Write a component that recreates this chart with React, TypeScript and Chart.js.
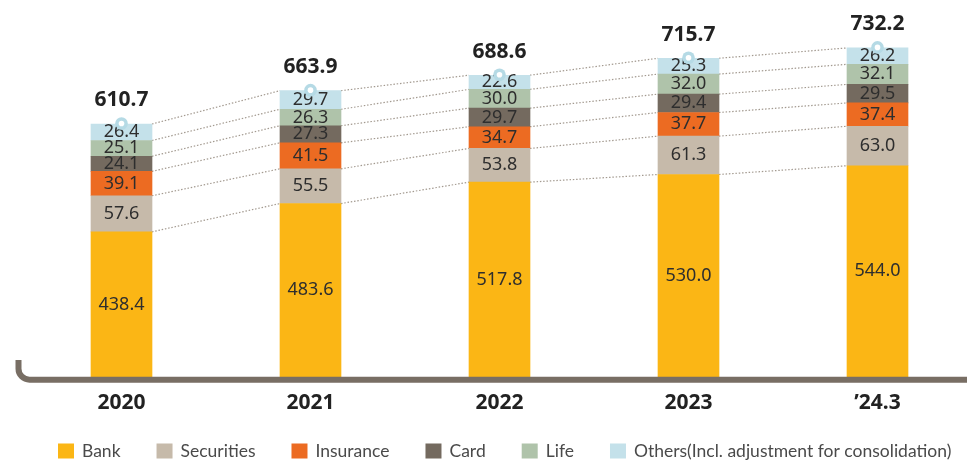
import React, { useEffect, useRef } from 'react';
import { Chart, registerables } from 'chart.js';

Chart.register(...registerables);

const categories = ['2020', '2021', '2022', '2023', '\u201924.3'];
const bank = [438.4, 483.6, 517.8, 530.0, 544.0];
const securities = [57.6, 55.5, 53.8, 61.3, 63.0];
const insurance = [39.1, 41.5, 34.7, 37.7, 37.4];
const card = [24.1, 27.3, 29.7, 29.4, 29.5];
const life = [25.1, 26.3, 30.0, 32.0, 32.1];
const others = [26.4, 29.7, 22.6, 25.3, 26.2];
const totals = [610.7, 663.9, 688.6, 715.7, 732.2];
const seriesNames = ['Bank', 'Securities', 'Insurance', 'Card', 'Life', 'Others(Incl. adjustment for consolidation)'];
const seriesColors = ['#FBB615', '#C6BAAA', '#EC6B22', '#746A5F', '#AFC3AA', '#C4E1EA'];

const FONT = '"Noto Sans", sans-serif';
const LEGEND_FONT = 'Lato, "Noto Sans", sans-serif';

const decorPlugin = {
  id: 'decor',
  beforeDatasetsDraw(chart: any) {
    const ctx = chart.ctx;
    const n = chart.data.datasets.length;
    ctx.save();
    ctx.strokeStyle = '#a39a90';
    ctx.lineWidth = 1.2;
    ctx.setLineDash([1.5, 1.8]);
    for (let d = 0; d < n; d++) {
      const meta = chart.getDatasetMeta(d);
      for (let i = 0; i < meta.data.length - 1; i++) {
        const a = meta.data[i];
        const b = meta.data[i + 1];
        ctx.beginPath();
        ctx.moveTo(a.x + a.width / 2, a.y);
        ctx.lineTo(b.x - b.width / 2, b.y);
        ctx.stroke();
      }
    }
    ctx.restore();
  },
  afterDatasetsDraw(chart: any) {
    const ctx = chart.ctx;
    const n = chart.data.datasets.length;
    const bottom = chart.chartArea.bottom;
    ctx.save();
    ctx.font = `18px ${FONT}`;
    ctx.fillStyle = '#2e2e2e';
    ctx.textAlign = 'center';
    ctx.textBaseline = 'middle';
    for (let d = 0; d < n; d++) {
      const meta = chart.getDatasetMeta(d);
      const vals = chart.data.datasets[d].data;
      meta.data.forEach((el: any, i: number) => {
        const base = Math.min(el.base, bottom);
        ctx.fillText(vals[i].toFixed(1), el.x, (el.y + base) / 2);
      });
    }
    const topMeta = chart.getDatasetMeta(n - 1);
    topMeta.data.forEach((el: any, i: number) => {
      ctx.beginPath();
      ctx.fillStyle = '#B5DAE5';
      ctx.arc(el.x, el.y - 0.5, 6.3, 0, Math.PI * 2);
      ctx.fill();
      ctx.beginPath();
      ctx.fillStyle = '#ffffff';
      ctx.arc(el.x, el.y - 0.5, 2.8, 0, Math.PI * 2);
      ctx.fill();
      ctx.font = `bold 21px ${FONT}`;
      ctx.fillStyle = '#222222';
      ctx.fillText(totals[i].toFixed(1), el.x, el.y - 23.5);
    });
    ctx.restore();
  },
  afterDraw(chart: any) {
    const ctx = chart.ctx;
    const area = chart.chartArea;
    ctx.save();
    const y = area.bottom + 2.7;
    const x0 = area.left - 8.5;
    ctx.strokeStyle = '#786e64';
    ctx.lineWidth = 6;
    ctx.lineCap = 'butt';
    ctx.beginPath();
    ctx.moveTo(x0, area.bottom - 17);
    ctx.lineTo(x0, y - 11);
    ctx.arcTo(x0, y, x0 + 11, y, 11);
    ctx.lineTo(chart.width + 10, y);
    ctx.stroke();
    ctx.font = `17.5px ${LEGEND_FONT}`;
    ctx.textAlign = 'left';
    ctx.textBaseline = 'middle';
    let x = 58;
    const ly = 451;
    chart.data.datasets.forEach((ds: any) => {
      ctx.fillStyle = ds.backgroundColor;
      ctx.fillRect(x, ly - 7.5, 16, 15);
      ctx.fillStyle = '#4a4a4a';
      const tx = x + 16 + 8;
      ctx.fillText(ds.label, tx, ly);
      x = tx + ctx.measureText(ds.label).width + 36;
    });
    ctx.restore();
  },
};

export default function App() {
  const ref = useRef<HTMLCanvasElement>(null);
  useEffect(() => {
    if (!ref.current) return;
    Chart.defaults.font.family = FONT;
    const seriesData = [bank, securities, insurance, card, life, others];
    const chart = new Chart(ref.current, {
      type: 'bar',
      data: {
        labels: categories,
        datasets: seriesData.map((data, i) => ({
          label: seriesNames[i],
          data,
          backgroundColor: seriesColors[i],
          borderWidth: 0,
          barThickness: 61,
        })),
      },
      options: {
        animation: false,
        responsive: true,
        maintainAspectRatio: false,
        layout: { padding: { left: 27, right: 4, top: 20, bottom: 32.8 } },
        plugins: { legend: { display: false }, tooltip: { enabled: false } },
        scales: {
          x: {
            stacked: true,
            grid: { display: false, drawTicks: false },
            border: { display: false },
            ticks: { font: { size: 21, weight: 'bold', family: FONT }, color: '#222222', padding: 13 },
          },
          y: {
            stacked: true,
            display: false,
            min: 206.5,
            max: 776.8,
          },
        },
      },
      plugins: [decorPlugin],
    });
    return () => chart.destroy();
  }, []);
  return (
    <div style={{ position: 'fixed', left: 0, top: 0, width: 967, height: 461, overflow: 'hidden', background: '#fff' }}>
      <div style={{ position: 'relative', width: 976, height: 461 }}>
        <canvas ref={ref} />
      </div>
    </div>
  );
}
